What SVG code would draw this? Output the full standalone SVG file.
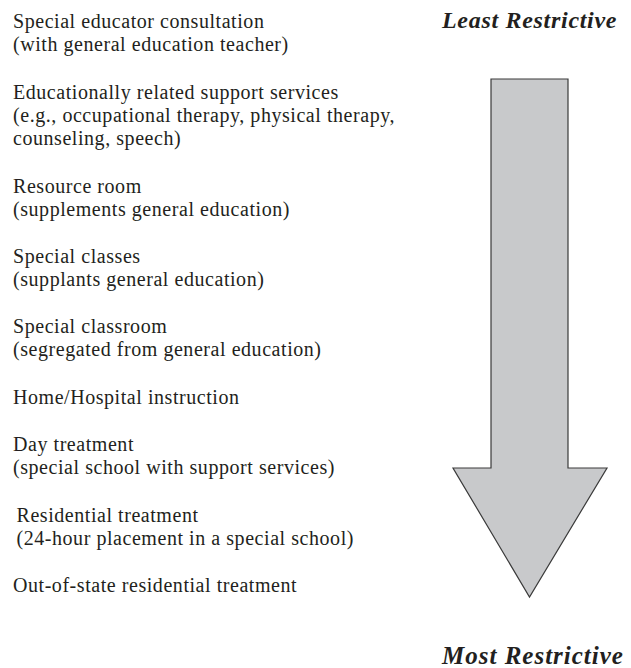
<svg xmlns="http://www.w3.org/2000/svg" width="631" height="668" viewBox="0 0 631 668">
<style>
.t{font-family:"Liberation Serif","Times New Roman",serif;font-size:20px;letter-spacing:0.55px;fill:#231f20}
.h{font-family:"Liberation Serif","Times New Roman",serif;font-size:24px;font-weight:bold;font-style:italic;letter-spacing:0.7px;fill:#231f20}
.arrow{fill:#c8c9cb;stroke:#3a3a3a;stroke-width:1.2}
</style>
<rect width="631" height="668" fill="#fff"/>
<g id="item1"><text class="t" x="13" y="28">Special educator consultation</text><text class="t" x="13" y="51">(with general education teacher)</text></g>
<g id="item2"><text class="t" x="13" y="99">Educationally related support services</text><text class="t" x="13" y="122">(e.g., occupational therapy, physical therapy,</text><text class="t" x="13" y="145">counseling, speech)</text></g>
<g id="item3"><text class="t" x="13" y="193">Resource room</text><text class="t" x="13" y="216">(supplements general education)</text></g>
<g id="item4"><text class="t" x="13" y="263">Special classes</text><text class="t" x="13" y="286">(supplants general education)</text></g>
<g id="item5"><text class="t" x="13" y="333">Special classroom</text><text class="t" x="13" y="356">(segregated from general education)</text></g>
<g id="item6"><text class="t" x="13" y="404">Home/Hospital instruction</text></g>
<g id="item7"><text class="t" x="13" y="451">Day treatment</text><text class="t" x="13" y="474">(special school with support services)</text></g>
<g id="item8"><text class="t" x="16.5" y="522">Residential treatment</text><text class="t" x="16.5" y="545">(24-hour placement in a special school)</text></g>
<g id="item9"><text class="t" x="13" y="592">Out-of-state residential treatment</text></g>
<g id="least"><text class="h" x="442" y="28">Least Restrictive</text></g>
<g id="most"><text class="h" x="442" y="664" style="font-size:25px;letter-spacing:1px">Most Restrictive</text></g>
<g id="connectors"><polygon class="arrow" points="491,79 568,79 568,468 607,468 529.5,597 453,468 491,468"/></g>
</svg>
